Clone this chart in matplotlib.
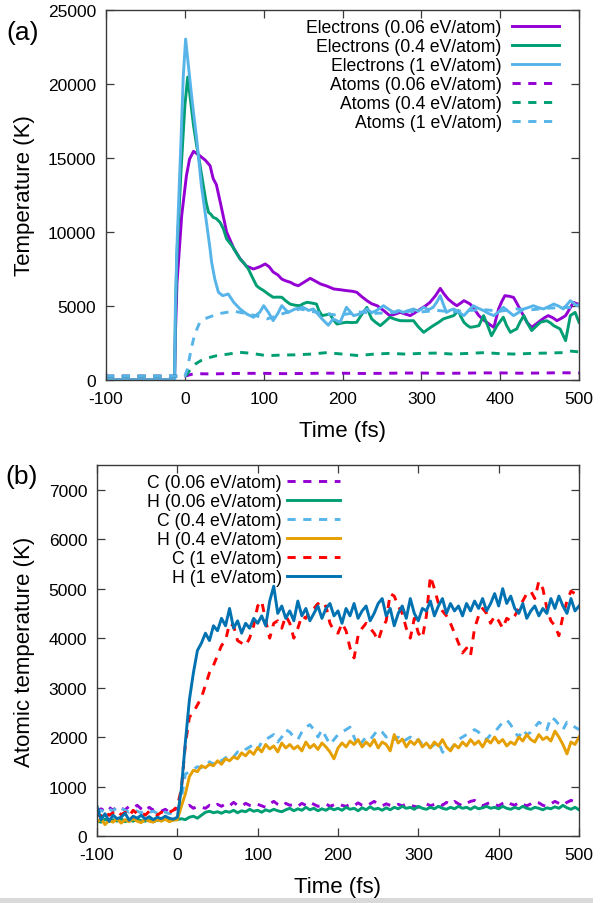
import numpy as np
import matplotlib
matplotlib.use("Agg")
import matplotlib.pyplot as plt
from matplotlib.patches import Rectangle

plt.rcParams['font.family'] = ['Liberation Sans', 'DejaVu Sans']
plt.rcParams['axes.unicode_minus'] = False

# gnuplot-like colours
PURPLE = '#9400d3'
GREEN = '#009e73'
SKY = '#56b4e9'
ORANGE = '#e69f00'
RED = '#ff0000'
BLUE = '#0072b2'
DASH = (0, (2.8, 2.6))

# ---------------- panel (a): electron / atom temperatures ----------------
t_e006 = [-100, -13, -12, -10, -4, 2, 6, 11, 19, 26, 32, 36, 40, 45, 53, 62, 70, 78, 87, 95,
          102, 107, 112, 118, 123, 128, 134, 139, 144, 151, 159, 165, 172, 180, 189, 197, 205, 212, 218, 224,
          231, 237, 244, 252, 260, 267, 273, 280, 286, 292, 299, 305, 311, 318, 324, 329, 334, 340, 345, 350,
          354, 358, 362, 367, 373, 378, 383, 388, 392, 398, 402, 406, 412, 417, 421, 425, 430, 434, 440, 446,
          451, 456, 461, 467, 472, 477, 483, 488, 493, 497, 500]
T_e006 = [0, 0, 3000, 6500, 11100, 13800, 14930, 15450, 15150, 14850, 14480, 13600, 13200, 12000, 10000, 8900, 8200, 7700, 7500, 7650,
          7840, 7650, 7300, 7100, 6820, 6700, 6600, 6450, 6370, 6600, 6870, 6700, 6490, 6350, 6150, 6100, 6040, 6000, 5930, 5650,
          5360, 5150, 5020, 4700, 4350, 4450, 4570, 4450, 4350, 4550, 4800, 5000, 5250, 5700, 6190, 5800, 5470, 5200, 5020, 5200,
          5360, 5250, 5130, 4800, 4350, 4100, 3900, 3700, 3560, 4800, 5300, 5700, 5650, 5580, 5200, 4800, 4300, 3900, 3560, 3800,
          4010, 4200, 4350, 4200, 4010, 4150, 4350, 4800, 5250, 5150, 5130]

t_e04 = [-100, -13, -12, -10, -5, 0, 3.6, 7, 11, 15,
         19, 23.5, 27, 30, 33, 36, 40, 44.7, 49, 53,
         59.5, 64, 70, 75, 80.6, 86, 91, 95, 100, 106,
         112, 118, 123, 128, 133.5, 140, 146, 150, 155, 161,
         167, 170, 174, 179, 184, 188, 193, 199, 205, 212,
         218, 224, 231, 234, 237, 242, 248, 254, 260, 267,
         273, 282, 290, 296, 303, 309, 315, 322, 328, 335,
         341, 347, 350, 354, 358, 362, 367, 373, 379, 384,
         389, 396, 404, 408, 413, 417, 421, 425, 430, 435,
         440, 445, 451, 459, 464, 468, 476, 480, 483, 486,
         489, 495, 500]
T_e04 = [0, 0, 4000, 8500, 14000, 18500, 20470, 19000, 17200, 15830,
         14600, 13130, 12000, 11330, 11200, 10990, 10900, 10650, 10200, 9530,
         9100, 8700, 8180, 7900, 7500, 6900, 6370, 6200, 6040, 5800,
         5590, 5600, 5590, 5350, 5130, 5050, 5020, 5150, 5250, 5200,
         5130, 4700, 4350, 4400, 4460, 4100, 3780, 3850, 3900, 3880,
         3900, 4400, 4910, 4500, 4130, 3900, 3670, 3950, 4240, 4100,
         4010, 4000, 4010, 3600, 3220, 3450, 3670, 3900, 4130, 4250,
         4350, 4690, 4300, 3900, 3700, 3560, 3600, 3670, 4350, 3700,
         2990, 3670, 4240, 3700, 3220, 3350, 3450, 3900, 4350, 3800,
         3340, 3600, 3900, 4010, 3850, 3670, 3450, 3000, 2660, 3500,
         4350, 4570, 3900]

t_e1 = [-100, -13, -12, -10, -5, -2, 1, 4, 9, 15,
        21, 28, 32, 34, 38, 42.6, 48, 55, 62, 70,
        78.5, 87, 95, 100, 106, 112, 118, 123, 131, 140,
        150, 157, 163, 168, 174, 182, 188, 197, 205, 214,
        222, 231, 237, 243, 252, 258, 265, 271, 277, 284,
        290, 296, 303, 309, 315, 320, 324, 328, 332, 336,
        341, 347, 354, 360, 366, 372, 379, 385, 392, 398,
        404, 410, 417, 423, 430, 436, 442, 448, 455, 461,
        468, 474, 480, 485, 489, 493, 497, 500]
T_e1 = [0, 0, 5000, 9000, 16000, 20500, 23040, 21500, 18990, 16290,
        13130, 10430, 8850, 7950, 6820, 5930, 5700, 5810, 5250, 4800,
        4460, 4240, 4570, 5020, 4570, 4010, 4500, 5020, 4570, 4800,
        4910, 4700, 4800, 4500, 4130, 3700, 4130, 3900, 4910, 4350,
        4460, 4800, 4550, 4690, 5020, 4800, 4570, 4700, 4570, 4700,
        4800, 4650, 4910, 4750, 4910, 5300, 5700, 5100, 4570, 4700,
        4800, 4600, 4350, 4700, 5020, 4850, 4690, 4500, 4350, 4600,
        4910, 4650, 4350, 4550, 4800, 4900, 5020, 4900, 4800, 4950,
        5130, 5000, 4800, 5100, 5360, 5200, 5020, 5100]

t_a006 = [-100, 0, 3, 8, 20, 35, 50, 75, 100, 125, 150, 175, 200, 225, 250, 275, 300, 325, 350, 375, 400, 425, 450, 475, 500]
T_a006 = [260, 260, 300, 380, 420, 410, 430, 450, 450, 430, 440, 460, 460, 440, 450, 470, 470, 450, 460, 480, 480, 460, 470, 490, 480]

t_a04 = [-100, 0, 3, 8, 14, 20, 30, 40, 55, 70, 85, 104, 120, 140, 160, 180, 200, 220, 240, 260,
         280, 300, 320, 340, 360, 380, 400, 420, 440, 460, 480, 490, 500]
T_a04 = [260, 260, 400, 800, 1100, 1300, 1500, 1640, 1750, 1870, 1800, 1640, 1680, 1700, 1750, 1850, 1750, 1650, 1750, 1800,
         1750, 1800, 1820, 1750, 1800, 1850, 1780, 1750, 1800, 1820, 1850, 1950, 1900]

t_a1 = [-100, 0, 3, 7, 11, 15, 19, 26, 36, 45, 53, 62, 70, 80, 90, 104, 115, 125, 135, 146,
        160, 175, 190, 205, 220, 240, 260, 280, 300, 320, 340, 360, 380, 400, 420, 440, 460, 480, 500]
T_a1 = [260, 260, 700, 1800, 2770, 3400, 3900, 4150, 4350, 4500, 4570, 4650, 4570, 4450, 4350, 4130, 4300, 4500, 4650, 4800,
        4650, 4500, 4400, 4450, 4600, 4500, 4550, 4650, 4600, 4700, 4600, 4700, 4750, 4650, 4800, 4750, 4850, 4900, 4900]

# ---------------- panel (b): C and H temperatures, every 5 fs ----------------
t_b = np.arange(-100, 505, 5)

C_006 = [480, 550, 500, 580, 520, 600, 560, 530, 600, 570, 620, 550, 500, 580, 520, 560, 500, 540, 480, 520,
         560, 600, 580, 620, 560, 600, 580, 560, 620, 590, 640, 600, 650, 610, 680, 620, 600, 660, 620, 600,
         640, 610, 580, 650, 700, 640, 600, 660, 620, 640, 600, 660, 620, 680, 640, 600, 620, 650, 600, 630,
         660, 620, 600, 640, 610, 670, 620, 600, 650, 700, 640, 610, 650, 620, 600, 640, 610, 650, 620, 600,
         580, 620, 650, 610, 640, 670, 620, 680, 640, 700, 650, 610, 660, 700, 720, 660, 610, 650, 680, 640,
         610, 660, 700, 650, 620, 680, 640, 610, 650, 700, 670, 620, 600, 650, 700, 660, 620, 680, 720, 690, 660]
H_006 = [300, 280, 340, 290, 330, 300, 350, 290, 320, 300, 340, 310, 300, 330, 290, 320, 310, 340, 320, 330,
         330, 350, 330, 380, 400, 360, 420, 480, 500, 470, 490, 460, 500, 480, 520, 470, 510, 490, 540, 500,
         520, 480, 530, 500, 540, 510, 490, 530, 560, 510, 550, 520, 580, 530, 560, 510, 550, 520, 570, 530,
         560, 520, 580, 540, 560, 510, 570, 530, 590, 540, 560, 520, 570, 530, 580, 550, 600, 560, 580, 540,
         600, 560, 540, 580, 550, 600, 560, 540, 580, 550, 600, 560, 580, 540, 590, 550, 570, 600, 560, 580,
         550, 600, 560, 540, 580, 550, 600, 560, 540, 580, 560, 530, 570, 550, 590, 560, 620, 570, 540, 580, 530]
C_04 = [450, 520, 480, 550, 500, 600, 560, 520, 480, 540, 500, 470, 520, 480, 500, 460, 510, 480, 450, 480,
        500, 750, 1250, 1300, 1350, 1400, 1380, 1420, 1500, 1450, 1550, 1520, 1580, 1650, 1600, 1700, 1680, 1750, 1800, 1850,
        1750, 1900, 1950, 2000, 2050, 1900, 2000, 2150, 2100, 2000, 1950, 2100, 2200, 2250, 2150, 2000, 2150, 2000, 1850, 1950,
        2050, 2100, 2150, 2200, 2000, 1800, 1900, 2000, 1950, 2050, 2150, 2100, 2000, 2050, 1950, 2000, 1900, 1950, 2000, 1900,
        1950, 1850, 1800, 1790, 1850, 1900, 1700, 1650, 1750, 1850, 1950, 2000, 2050, 2100, 2150, 2100, 2000, 1950, 2050, 2100,
        2200, 2300, 2350, 2250, 2100, 2000, 2150, 2050, 2100, 2200, 2300, 2250, 2150, 2400, 2350, 2250, 2150, 2300, 2250, 2200, 2150]
H_04 = [280, 350, 230, 320, 280, 350, 260, 330, 290, 350, 300, 270, 340, 300, 280, 330, 300, 340, 290, 320,
        330, 600, 850, 1200, 1330, 1300, 1420, 1380, 1450, 1420, 1520, 1450, 1560, 1520, 1600, 1560, 1680, 1620, 1720, 1650,
        1790, 1700, 1850, 1760, 1820, 1700, 1880, 1780, 1850, 1760, 1820, 1720, 1900, 1780, 1850, 1750, 1880, 1800, 1700, 1560,
        1780, 1880, 1800, 1920, 1850, 1950, 1800, 1900, 1820, 1950, 1780, 1900, 1850, 1720, 2050, 1880, 1960, 1800, 1920, 1850,
        1950, 1800, 1880, 1780, 1900, 1820, 1950, 1800, 1720, 1850, 1780, 1900, 1820, 1950, 1850, 1920, 1800, 1950, 1880, 2000,
        1880, 1950, 1820, 1900, 1850, 2000, 1920, 2050, 1950, 1900, 2050, 1950, 2000, 1920, 2120, 2000, 1850, 1660, 1900, 1850, 2000]
C_1 = [450, 380, 500, 420, 470, 520, 430, 480, 400, 520, 450, 480, 420, 500, 460, 420, 480, 440, 480, 520,
       600, 950, 1850, 2400, 2500, 2650, 2800, 3050, 3300, 3450, 3650, 3850, 3950, 4300, 4250, 3950, 3900, 3850, 4000, 4250,
       4650, 4750, 4350, 4000, 4300, 4350, 4200, 4450, 4300, 4000, 4200, 4450, 4400, 4550, 4600, 4700, 4600, 4650, 4300, 4150,
       4100, 4300, 4150, 3800, 3600, 4050, 4200, 4300, 4200, 4100, 3950, 4200, 4350, 4900, 4850, 4650, 4500, 4200, 4000, 4400,
       4100, 4000, 4450, 5250, 5000, 4700, 4550, 4450, 4300, 4100, 3900, 3700, 3800, 3650, 4200, 4450, 4600, 4500, 4300, 4450,
       4350, 4200, 4400, 4350, 4450, 4600, 4750, 4900, 4950, 4800, 5150, 5000, 4600, 4350, 4250, 4050, 4450, 4750, 4950, 4900, 5000]
H_1 = [600, 330, 450, 300, 420, 350, 380, 460, 320, 400, 360, 420, 340, 390, 330, 380, 350, 400, 360, 340,
       380, 950, 1900, 2750, 3300, 3750, 3900, 4100, 3950, 4250, 4150, 4400, 4250, 4600, 4200, 4350, 4100, 4300, 4200, 4400,
       4300, 4450, 4250, 4750, 5050, 4500, 4650, 4400, 4550, 4350, 4750, 4450, 4600, 4350, 4500, 4650, 4400, 4600, 4700, 4450,
       4550, 4300, 4600, 4450, 4700, 4400, 4550, 4650, 4350, 4500, 4700, 4800, 4450, 4600, 4250, 4500, 4650, 4400, 4800, 4500,
       4350, 4600, 4550, 4750, 4450, 4650, 4800, 4500, 4700, 4550, 4650, 4450, 4700, 4550, 4750, 4600, 4800, 4550, 4700, 4900,
       4650, 5000, 4700, 4850, 4600, 4500, 4700, 4400, 4550, 4650, 4450, 4600, 4500, 4800, 4600, 4850, 4650, 4500, 4800, 4550, 4650]


def style_axes(ax):
    for s in ax.spines.values():
        s.set_color('#3a3a3a')
        s.set_linewidth(1.0)
    ax.tick_params(direction='in', length=5.5, width=0.9, color='#3a3a3a',
                   top=True, right=True, labelsize=12.5, pad=7)
    ax.tick_params(axis='x', pad=8)
    ax.set_xlim(-100, 500)
    ax.set_xticks(range(-100, 501, 100))


fig = plt.figure(figsize=(6.02, 9.04), dpi=100)

# panel (a)
ax1 = fig.add_axes([106 / 602, 1 - 381 / 904, 473 / 602, 370 / 904])
lw = 2.1
ax1.plot(t_e006, T_e006, color=PURPLE, lw=lw, label='Electrons (0.06 eV/atom)')
ax1.plot(t_e04, T_e04, color=GREEN, lw=lw, label='Electrons (0.4 eV/atom)')
ax1.plot(t_e1, T_e1, color=SKY, lw=lw, label='Electrons (1 eV/atom)')
ax1.plot(t_a006, T_a006, color=PURPLE, lw=lw, ls=DASH, label='Atoms (0.06 eV/atom)')
ax1.plot(t_a04, T_a04, color=GREEN, lw=lw, ls=DASH, label='Atoms (0.4 eV/atom)')
ax1.plot(t_a1, T_a1, color=SKY, lw=lw, ls=DASH, label='Atoms (1 eV/atom)')
style_axes(ax1)
ax1.set_ylim(0, 25000)
ax1.set_yticks(range(0, 25001, 5000))
ax1.set_xlabel('Time (fs)', fontsize=16)
ax1.set_ylabel('Temperature (K)', fontsize=16)
ax1.xaxis.set_label_coords(0.5, -0.108)
ax1.yaxis.set_label_coords(-0.150, 0.5)
ax1.legend(loc='upper right', bbox_to_anchor=(0.958, 0.976), frameon=False,
           markerfirst=False, fontsize=12.7, handlelength=2.7, handletextpad=0.55,
           labelspacing=0.12, borderpad=0, borderaxespad=0)

# panel (b)
ax2 = fig.add_axes([97 / 602, 1 - 837 / 904, 482 / 602, 371 / 904])
ax2.plot(t_b, C_006, color=PURPLE, lw=lw, ls=DASH, label='C (0.06 eV/atom)')
ax2.plot(t_b, H_006, color=GREEN, lw=lw, label='H (0.06 eV/atom)')
ax2.plot(t_b, C_04, color=SKY, lw=lw, ls=DASH, label='C (0.4 eV/atom)')
ax2.plot(t_b, H_04, color=ORANGE, lw=lw, label='H (0.4 eV/atom)')
ax2.plot(t_b, C_1, color=RED, lw=lw, ls=DASH, label='C (1 eV/atom)')
ax2.plot(t_b, H_1, color=BLUE, lw=lw, label='H (1 eV/atom)')
style_axes(ax2)
ax2.set_ylim(0, 7500)
ax2.set_yticks(range(0, 7001, 1000))
ax2.set_xlabel('Time (fs)', fontsize=16)
ax2.set_ylabel('Atomic temperature (K)', fontsize=16)
ax2.xaxis.set_label_coords(0.5, -0.108)
ax2.yaxis.set_label_coords(-0.129, 0.5)
ax2.legend(loc='upper right', bbox_to_anchor=(0.504, 0.976), frameon=False,
           markerfirst=False, fontsize=12.7, handlelength=3.0, handletextpad=0.3,
           labelspacing=0.12, borderpad=0, borderaxespad=0)

fig.text(23 / 602, 1 - 33 / 904, '(a)', fontsize=19, ha='center', va='center')
fig.text(22 / 602, 1 - 477 / 904, '(b)', fontsize=19, ha='center', va='center')

# thin grey strip along the bottom edge
fig.patches.append(Rectangle((0, 0), 0.985, 5 / 904, transform=fig.transFigure,
                             facecolor='#d9d9d9', edgecolor='none'))

fig.savefig('out.png', dpi=100)
